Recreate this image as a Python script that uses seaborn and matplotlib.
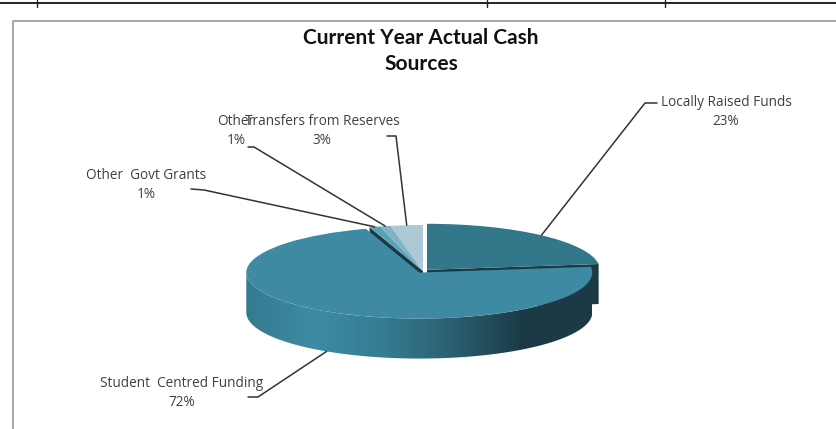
import numpy as np
import matplotlib
matplotlib.use('Agg')
import matplotlib.pyplot as plt
from matplotlib.patches import Polygon
import seaborn as sns

# Chart data
sources = ['Locally Raised Funds', 'Student  Centred Funding', 'Other  Govt Grants', 'Other', 'Transfers from Reserves']
shares = [23, 72, 1, 1, 3]
explode = [0.035, 0.04, 0, 0, 0]
slice_colors = ['#33788a', '#3e8aa3', '#5aa2b7', '#80b3c4', '#aec9d6']
side_stops = ['#347a90', '#3d8ba5', '#347c91', '#2b5f70', '#1b3a46', '#1b3a46']
dark_wall = '#1b3a46'

# Pixel layout of the label text and the elbow of each leader line
label_pos = [(726, 112), (182, 393), (146, 185), (236, 131), (322, 131)]
elbows = [[(657, 103), (645, 103)], [(248, 397), (258, 397)], [(191, 189), (204, 190)],
          [(248, 147), (254, 147)], [(387, 136), (396, 136)]]

W, H = 837, 429
CX, CY = 423, 271
RX, RY = 173, 46
DEPTH = 40 / RY

sns.set_theme(style='white')
plt.rcParams['font.family'] = ['Open Sans', 'DejaVu Sans']

fig = plt.figure(figsize=(W / 100, H / 100), dpi=100, facecolor='white')

# Page furniture, in pixels
bg = fig.add_axes([0, 0, 1, 1])
bg.set_xlim(0, W)
bg.set_ylim(H, 0)
bg.axis('off')
bg.plot([0, W], [3, 3], color='#222222', lw=1.4)
for x in [37, 487, 665]:
    bg.plot([x, x], [0, 7], color='#222222', lw=1)
bg.plot([13, 13, W], [H, 21, 21], color='#a6a6a6', lw=1.4)

# Squashed pie: axes sized so that one data unit is RX by RY pixels
xmin, xmax, ymin, ymax = -1.3, 1.3, -1.2, 1.2
ax_left = CX + xmin * RX
ax_bottom = H - CY + (ymin - DEPTH) * RY
ax = fig.add_axes([ax_left / W, ax_bottom / H, (xmax - xmin) * RX / W, (ymax - ymin + DEPTH) * RY / H])
ax.patch.set_alpha(0)

wedges, _ = ax.pie(shares, colors=slice_colors, explode=explode, startangle=90, counterclock=False, radius=1,
                   wedgeprops={'linewidth': 0})
for w in wedges:
    w.set_zorder(5)
ax.set_aspect('auto')


def rim(center, angles):
    a = np.radians(angles)
    return np.column_stack([center[0] + np.cos(a), center[1] + np.sin(a)])


def wall(center, angle):
    # flat cut face of a slice, from the tip out to the rim and down
    tip = np.array(center)
    edge = rim(center, [angle])[0]
    down = np.array([0, -DEPTH])
    ax.add_patch(Polygon([tip, edge, edge + down, tip + down], color=dark_wall, lw=0, zorder=2))


local, student, govt = wedges[0], wedges[1], wedges[2]

# Dark side of the raised funds slice and cut faces seen through the gaps
wall(local.center, local.theta1)
wall(govt.center, govt.theta2)

# Gradient rim under the big slice
arc = rim(student.center, np.linspace(180, 360, 120))
side = np.vstack([arc, (arc - [0, DEPTH])[::-1]])
clip = Polygon(side, transform=ax.transData, fc='none', lw=0)
ax.add_patch(clip)
side_cmap = sns.blend_palette(side_stops, as_cmap=True)
img = ax.imshow(np.linspace(0, 1, 256).reshape(1, -1), cmap=side_cmap, aspect='auto', zorder=3,
                extent=[student.center[0] - 1, student.center[0] + 1, student.center[1] - 1 - DEPTH, student.center[1]])
img.set_clip_path(clip)

ax.set_xlim(xmin, xmax)
ax.set_ylim(ymin - DEPTH, ymax)
ax.axis('off')

# Labels and leader lines
for i, w in enumerate(wedges):
    mid = (w.theta1 + w.theta2) / 2
    end = rim(w.center, [mid])[0]
    px = CX + end[0] * RX
    py = CY - end[1] * RY
    if np.sin(np.radians(mid)) < 0:
        py += DEPTH * RY
    pts = elbows[i] + [(px, py)]
    bg.plot([p[0] for p in pts], [p[1] for p in pts], color='#333333', lw=1.1, zorder=6)
    bg.text(label_pos[i][0], label_pos[i][1], f'{sources[i]}\n{shares[i]}%', ha='center', va='center',
            fontsize=9.8, color='#404040', linespacing=1.4, zorder=7)

bg.text(421, 51, 'Current Year Actual Cash\nSources', ha='center', va='center', fontsize=15,
        fontweight='bold', color='#111111', linespacing=1.35, family='Lato')

bg.set_zorder(2)
ax.set_zorder(1)
fig.savefig('out.png', dpi=100)
